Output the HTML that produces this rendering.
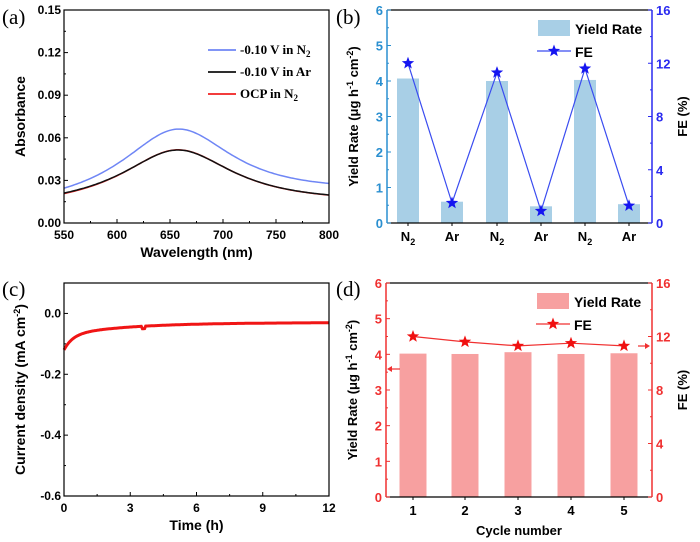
<!DOCTYPE html>
<html><head><meta charset="utf-8"><style>
html,body{margin:0;padding:0;background:#fff}
svg{display:block;font-family:"Liberation Sans",Arial,sans-serif}
.ser{font-family:"Liberation Serif",serif}
</style></head><body>
<svg id="s" width="700" height="542" viewBox="0 0 700 542" xmlns="http://www.w3.org/2000/svg">
<text x="2" y="24" class="ser" font-size="21">(a)</text>
<text x="336" y="24" class="ser" font-size="21">(b)</text>
<text x="2" y="296" class="ser" font-size="21">(c)</text>
<text x="336" y="296" class="ser" font-size="21">(d)</text>
<g id="g"></g>
</svg>
<script>
const g=document.getElementById('g');let h='';
function L(x1,y1,x2,y2,c,w){h+=`<line x1="${x1}" y1="${y1}" x2="${x2}" y2="${y2}" stroke="${c||'#000'}" stroke-width="${w||1}"/>`;}
function T(x,y,s,a,c,sz,extra){h+=`<text x="${x}" y="${y}" text-anchor="${a||'middle'}" fill="${c||'#000'}" font-size="${sz||12}" font-weight="bold" ${extra||''}>${s}</text>`;}
// ---- (a)
{const X0=64,X1=329,Y0=223,Y1=10;
const sx=v=>X0+(v-550)/250*(X1-X0), sy=v=>Y0-(v/0.15)*(Y0-Y1);
function curve(A,b0,b1,c){let p='';for(let x=550;x<=800;x+=2){const b=b0+(b1-b0)*(x-550)/250;const y=b+A/(1+((x-657)/65)**2);p+=(x==550?'M':'L')+sx(x).toFixed(1)+','+sy(y).toFixed(1);}h+=`<path d="${p}" fill="none" stroke="${c}" stroke-width="1.5"/>`;}
curve(0.052,0.0105,0.019,'#6f86f5');
curve(0.0405,0.0098,0.0127,'#f02020');
curve(0.040,0.0103,0.0129,'#111');
h+=`<rect x="${X0}" y="${Y1}" width="${X1-X0}" height="${Y0-Y1}" fill="none" stroke="#000" stroke-width="1.2"/>`;
for(let i=0;i<=5;i++){const v=i*0.03,y=sy(v);L(X0,y,X0+4,y);T(X0-3,y+4,v.toFixed(2),'end');if(i<5)L(X0,sy(v+0.015),X0+2,sy(v+0.015));}
for(let x=550;x<=800;x+=50){L(sx(x),Y0,sx(x),Y0-4);T(sx(x),Y0+16,x);if(x<800)L(sx(x+25),Y0,sx(x+25),Y0-2);}
T((X0+X1)/2,Y0+34,'Wavelength (nm)','middle','#000',14);
h+=`<text transform="translate(25,${(Y0+Y1)/2}) rotate(-90)" text-anchor="middle" font-size="14" font-weight="bold">Absorbance</text>`;
const lg=[['#6f86f5','-0.10 V in N<tspan font-size="9" dy="3">2</tspan>'],['#111','-0.10 V in Ar'],['#f02020','OCP in N<tspan font-size="9" dy="3">2</tspan>']];
lg.forEach((l,i)=>{const y=50+i*22;L(208,y,236,y,l[0],1.8);h+=`<text x="240" y="${y+4}" font-family="Liberation Serif,serif" font-size="13" font-weight="bold">${l[1]}</text>`;});
}
// ---- (c)
{const X0=64,X1=329,Y0=496,Y1=283;
const sx=v=>X0+v/12*(X1-X0), sy=v=>Y0-((v+0.6)/0.7)*(Y0-Y1);
let p='';for(let t=0;t<=12.001;t+=0.05){let j=-0.03-0.04*Math.exp(-t/3)-0.05*Math.exp(-t/0.4);if(Math.abs(t-3.6)<0.06)j-=0.008;p+=(t==0?'M':'L')+sx(t).toFixed(1)+','+sy(j).toFixed(1);}
h+=`<path d="${p}" fill="none" stroke="#f01515" stroke-width="3"/>`;
h+=`<rect x="${X0}" y="${Y1}" width="${X1-X0}" height="${Y0-Y1}" fill="none" stroke="#000" stroke-width="1.2"/>`;
for(let v=-0.6;v<=0.01;v+=0.2){const y=sy(v);L(X0,y,X0+4,y);T(X0-3,y+4,Math.abs(v)<1e-6?'0.0':v.toFixed(1),'end');}
for(let v=-0.5;v<=0.11;v+=0.2)L(X0,sy(v),X0+2,sy(v));
for(let t=0;t<=12;t+=3){L(sx(t),Y0,sx(t),Y0-4);T(sx(t),Y0+16,t);if(t<12)L(sx(t+1.5),Y0,sx(t+1.5),Y0-2);}
T((X0+X1)/2,Y0+34,'Time (h)','middle','#000',14);
h+=`<text transform="translate(25,${(Y0+Y1)/2}) rotate(-90)" text-anchor="middle" font-size="14" font-weight="bold">Current density (mA cm<tspan font-size="9" dy="-5">-2</tspan><tspan dy="5">)</tspan></text>`;
}
function star(cx,cy,r,c){let p='';for(let i=0;i<10;i++){const a=-Math.PI/2+i*Math.PI/5,rr=i%2?r*0.42:r;p+=(i?'L':'M')+(cx+rr*Math.cos(a)).toFixed(1)+','+(cy+rr*Math.sin(a)).toFixed(1);}h+=`<path d="${p}Z" fill="${c}"/>`;}
function barPanel(o){const X0=o.X0,X1=o.X1,Y0=o.Y0,Y1=o.Y1;
const syl=v=>Y0-v/6*(Y0-Y1), syr=v=>Y0-v/16*(Y0-Y1);
o.bars.forEach((b,i)=>{const cx=o.cx[i];h+=`<rect x="${cx-o.bw/2}" y="${syl(b)}" width="${o.bw}" height="${Y0-syl(b)}" fill="${o.bc}"/>`;});
let p='';o.fe.forEach((f,i)=>{p+=(i?'L':'M')+o.cx[i]+','+syr(f).toFixed(1);});
h+=`<path d="${p}" fill="none" stroke="${o.lc}" stroke-width="1.2"/>`;
o.fe.forEach((f,i)=>star(o.cx[i],syr(f),6.5,o.sc));
L(X0,Y1,X1,Y1,'#000',1.2);L(X0,Y0,X1,Y0,'#000',1.2);
L(X0,Y1,X0,Y0,o.ac,1.5);L(X1,Y1,X1,Y0,o.rc,1.5);
for(let v=0;v<=6;v++){const y=syl(v);L(X0,y,X0+4,y,o.ac);T(X0-4,y+5,v,'end',o.ac,13,'font-weight="normal"');if(v<6)L(X0,syl(v+0.5),X0+2,syl(v+0.5),o.ac);}
for(let v=0;v<=16;v+=4){const y=syr(v);L(X1,y,X1-4,y,o.rc);T(X1+4,y+5,v,'start',o.rc,13,'font-weight="normal"');if(v<16)L(X1,syr(v+2),X1-2,syr(v+2),o.rc);}
o.cx.forEach((cx,i)=>{L(cx,Y0,cx,Y0+3);h+=`<text x="${cx}" y="${Y0+18}" text-anchor="middle" font-size="13" font-weight="bold">${o.xl[i]}</text>`;});
h+=`<text transform="translate(${X0-29},${(Y0+Y1)/2}) rotate(-90)" text-anchor="middle" font-size="13" font-weight="bold">Yield Rate (μg h<tspan font-size="9" dy="-5">-1</tspan><tspan dy="5"> cm</tspan><tspan font-size="9" dy="-5">-2</tspan><tspan dy="5">)</tspan></text>`;
h+=`<text transform="translate(${X1+35},${(Y0+Y1)/2}) rotate(-90)" text-anchor="middle" font-size="13" font-weight="bold">FE (%)</text>`;
h+=`<rect x="${X0+151}" y="${Y1+10}" width="32" height="16" fill="${o.bc}"/>`;T(X0+188,Y1+24,'Yield Rate','start','#000',14);
L(X0+150,Y1+41,X0+184,Y1+41,o.lc,1.2);star(X0+167,Y1+41,6.5,o.sc);T(X0+188,Y1+47,'FE','start','#000',14);
}
const N2='N<tspan font-size="9" dy="4">2</tspan>';
barPanel({X0:387,X1:652,Y0:223,Y1:10,cx:[408,452,497,541,585,629],bw:22,bars:[4.07,0.6,4.0,0.47,4.03,0.53],fe:[12,1.5,11.3,0.9,11.6,1.3],bc:'#a8cfe6',lc:'#3a4cf0',sc:'#1515f0',ac:'#2a8fd0',rc:'#2a2af0',xl:[N2,'Ar',N2,'Ar',N2,'Ar']});
barPanel({X0:386,X1:652,Y0:497,Y1:283,cx:[413,465,518,571,624],bw:27,bars:[4.02,4.01,4.06,4.01,4.03],fe:[12,11.6,11.3,11.5,11.3],bc:'#f7a0a0',lc:'#f03030',sc:'#f01010',ac:'#f03030',rc:'#f03030',xl:[1,2,3,4,5]});
T(519,535,'Cycle number','middle','#000',13);
L(389,369,400,369,'#f03030',1.2);h+=`<path d="M387,369 L392,366 L392,372Z" fill="#f03030"/>`;
L(638,346,648,346,'#f03030',1.2);h+=`<path d="M650,346 L645,343 L645,349Z" fill="#f03030"/>`;
g.innerHTML=h;
</script>
</body></html>
